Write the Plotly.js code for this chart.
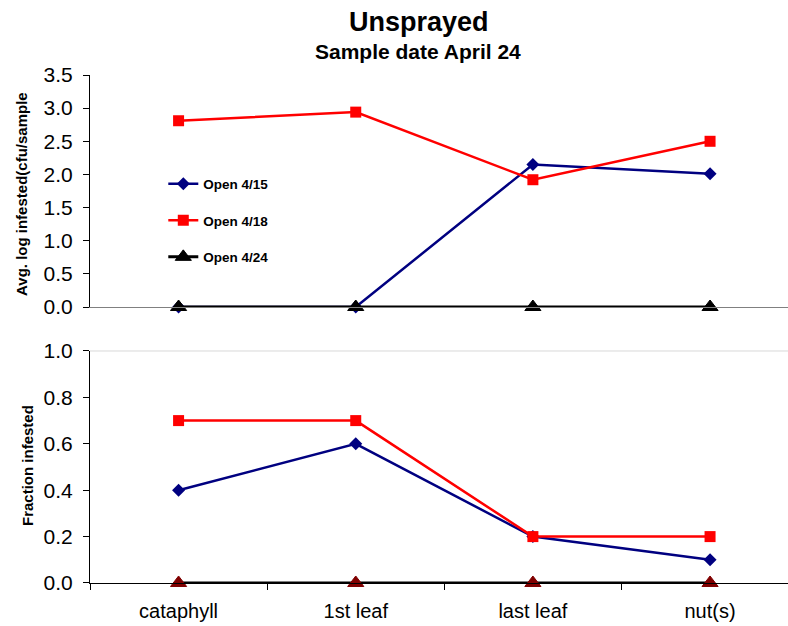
<!DOCTYPE html>
<html>
<head>
<meta charset="utf-8">
<script src="https://cdn.plot.ly/plotly-3.0.1.min.js"></script>
<style>html,body{margin:0;padding:0;background:#fff;}#chart{width:788px;height:626px;}</style>
</head>
<body>
<div id="chart"></div>
<script>
const categories = ["cataphyll", "1st leaf", "last leaf", "nut(s)"];
const seriesNames = ["Open 4/15", "Open 4/18", "Open 4/24"];
const logOpen415 = [0, 0, 2.15, 2.01];
const logOpen418 = [2.81, 2.94, 1.92, 2.50];
const logOpen424 = [0, 0, 0, 0];
const fracOpen415 = [0.40, 0.60, 0.20, 0.10];
const fracOpen418 = [0.70, 0.70, 0.20, 0.20];
const fracOpen424 = [0, 0, 0, 0];
const topTicks = [0, 0.5, 1.0, 1.5, 2.0, 2.5, 3.0, 3.5];
const bottomTicks = [0, 0.2, 0.4, 0.6, 0.8, 1.0];

const FONT = "Liberation Sans, Arial, sans-serif";

const traces = [
  {x: categories, y: logOpen415, name: seriesNames[0], legendgroup: "a", xaxis: "x", yaxis: "y", mode: "lines+markers", cliponaxis: false,
   line: {color: "#000080", width: 2.5}, marker: {symbol: "diamond", size: 10, color: "#000080"}},
  {x: categories, y: logOpen418, name: seriesNames[1], legendgroup: "b", xaxis: "x", yaxis: "y", mode: "lines+markers", cliponaxis: false,
   line: {color: "#FF0000", width: 2.5}, marker: {symbol: "square", size: 11, color: "#FF0000"}},
  {x: categories, y: logOpen424, name: seriesNames[2], legendgroup: "c", xaxis: "x", yaxis: "y", mode: "lines+markers", cliponaxis: false,
   line: {color: "#000000", width: 3}, marker: {symbol: "triangle-up", size: 14, color: "#000000", line: {color: "#000000", width: 1}}},
  {x: categories, y: fracOpen415, name: seriesNames[0], xaxis: "x2", yaxis: "y2", mode: "lines+markers", showlegend: false, cliponaxis: false,
   line: {color: "#000080", width: 2.5}, marker: {symbol: "diamond", size: 10, color: "#000080"}},
  {x: categories, y: fracOpen418, name: seriesNames[1], xaxis: "x2", yaxis: "y2", mode: "lines+markers", showlegend: false, cliponaxis: false,
   line: {color: "#FF0000", width: 2.5}, marker: {symbol: "square", size: 11, color: "#FF0000"}},
  {x: categories, y: fracOpen424, name: seriesNames[2], xaxis: "x2", yaxis: "y2", mode: "lines+markers", showlegend: false, cliponaxis: false,
   line: {color: "#000000", width: 3}, marker: {symbol: "triangle-up", size: 14, color: "#800000", line: {color: "#800000", width: 1}}}
];

const xRange = [-0.5, 3.44];
const topDomain = [0.5433, 1];
const bottomDomain = [0, 0.4567];

function yAxisBase(domain, range, ticks) {
  return {domain: domain, anchor: "x", range: range, tickvals: ticks,
          ticktext: ticks.map(v => v.toFixed(1)), ticks: "outside", ticklen: 6, tickcolor: "#000", tickwidth: 1,
          showline: true, linecolor: "#000", linewidth: 1, showgrid: false, zeroline: false,
          ticklabelstandoff: 6,
          tickfont: {family: FONT, size: 21, color: "#000"}};
}

const yTop = yAxisBase(topDomain, [0, 3.5], topTicks);
const yBottom = yAxisBase(bottomDomain, [0, 1.0], bottomTicks);
yBottom.anchor = "x2";

const layout = {
  width: 788, height: 626,
  margin: {l: 90, r: 0, t: 75, b: 43},
  paper_bgcolor: "#ffffff", plot_bgcolor: "#ffffff",
  font: {family: FONT, color: "#000"},
  showlegend: true,
  legend: {x: 0.105, y: 0.816, xanchor: "left", yanchor: "top", bgcolor: "rgba(0,0,0,0)",
           traceorder: "grouped", tracegroupgap: 16,
           font: {family: FONT, size: 13.5, color: "#000", weight: "bold"}, itemwidth: 30},
  annotations: [
    {text: "<b>Unsprayed</b>", xref: "paper", yref: "paper", x: 0.471, y: 1, yshift: 75 - 22, xanchor: "center", yanchor: "middle",
     showarrow: false, font: {family: FONT, size: 27, color: "#000"}},
    {text: "<b>Sample date April 24</b>", xref: "paper", yref: "paper", x: 0.47, y: 1, yshift: 75 - 51, xanchor: "center", yanchor: "middle",
     showarrow: false, font: {family: FONT, size: 21, color: "#000"}},
    {text: "<b>Avg. log infested(cfu/sample</b>", xref: "paper", yref: "paper", x: 0, xshift: -68.5, y: 0.7648,
     xanchor: "center", yanchor: "middle", textangle: -90, showarrow: false, font: {family: FONT, size: 15, color: "#000"}},
    {text: "<b>Fraction infested</b>", xref: "paper", yref: "paper", x: 0, xshift: -63, y: 0.2303,
     xanchor: "center", yanchor: "middle", textangle: -90, showarrow: false, font: {family: FONT, size: 15, color: "#000"}}
  ],
  xaxis: {domain: [0, 1], anchor: "y", type: "category", range: xRange, showticklabels: false,
          showline: true, linecolor: "#808080", linewidth: 1, ticks: "", showgrid: false, zeroline: false},
  yaxis: yTop,
  yaxis3: {domain: topDomain, anchor: "x", overlaying: "y", side: "left", range: [0, 3.5], tickvals: topTicks,
           ticks: "inside", ticklen: 6, tickcolor: "#000", showticklabels: false, showline: false, showgrid: false, zeroline: false},
  xaxis2: {domain: [0, 1], anchor: "y2", type: "category", range: xRange, tickson: "boundaries",
           ticks: "outside", ticklen: 6, tickcolor: "#000", showline: true, linecolor: "#000", linewidth: 1,
           showgrid: false, zeroline: false, ticklabelstandoff: 10, tickfont: {family: FONT, size: 20, color: "#000"}},
  yaxis2: yBottom,
  yaxis4: {domain: bottomDomain, anchor: "x2", overlaying: "y2", side: "left", range: [0, 1.0], tickvals: bottomTicks,
           ticks: "inside", ticklen: 6, tickcolor: "#000", showticklabels: false, showline: false, showgrid: false, zeroline: false},
  shapes: [
    {type: "line", xref: "paper", yref: "paper", x0: 0, x1: 1, y0: 0.4567, y1: 0.4567,
     line: {color: "#d8d8d8", width: 1}, layer: "below"}
  ]
};

Plotly.newPlot("chart", traces, layout, {displayModeBar: false, staticPlot: true});
</script>
</body>
</html>
